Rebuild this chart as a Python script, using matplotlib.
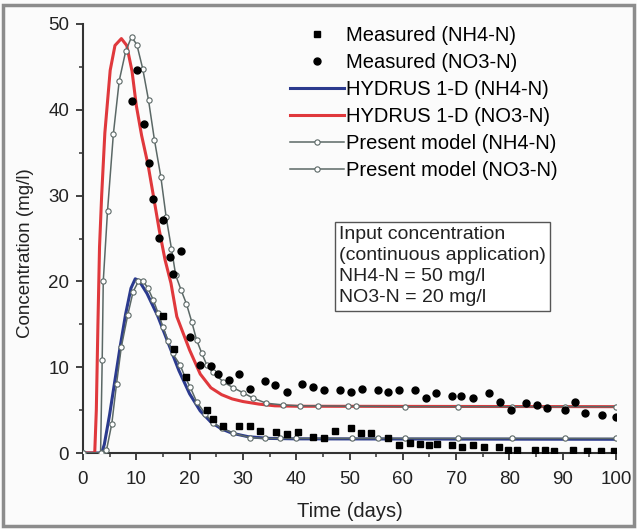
import matplotlib
matplotlib.use("Agg")
import matplotlib.pyplot as plt
from matplotlib.patches import Rectangle

plt.rcParams["font.family"] = ["Liberation Sans", "DejaVu Sans"]

# measured data
meas_nh4_days = [15.1, 17.1, 19.4, 23.2, 24.3, 26.3, 29.2, 31.3, 33.2, 36.3, 38.2, 40.4, 43.2, 45.3,
                 47.3, 50.2, 52.2, 54.0, 57.3, 59.3, 61.3, 63.2, 64.9, 66.5, 69.2, 71.2, 73.2, 75.2,
                 78.0, 79.8, 81.4, 84.8, 86.6, 88.3, 92.0, 94.5, 97.2, 99.7]
meas_nh4 = [16.0, 12.1, 8.9, 5.0, 4.0, 3.1, 3.1, 3.2, 2.6, 2.5, 2.2, 2.4, 1.9, 1.8,
            2.6, 2.9, 2.3, 2.3, 1.8, 0.9, 1.2, 1.1, 0.9, 1.0, 0.9, 0.7, 0.9, 0.7,
            0.7, 0.3, 0.3, 0.3, 0.3, 0.2, 0.3, 0.2, 0.2, 0.2]

meas_no3_days = [9.1, 10.1, 11.5, 12.4, 13.2, 14.3, 15.0, 16.3, 16.9, 18.3, 20.1, 21.9, 24.1, 25.3,
                 27.3, 29.2, 31.3, 34.2, 36.1, 38.2, 41.1, 43.2, 45.2, 48.2, 50.2, 52.3, 55.3, 57.3,
                 59.3, 62.3, 64.4, 66.2, 69.2, 71.0, 73.2, 76.2, 78.2, 80.3, 83.2, 85.1, 87.0, 90.4,
                 92.3, 94.2, 97.3, 100.0]
meas_no3 = [41.0, 44.6, 38.4, 33.8, 29.6, 25.1, 27.2, 22.9, 20.9, 23.6, 13.5, 10.3, 10.1, 9.2,
            8.5, 9.2, 7.5, 8.4, 7.9, 7.1, 8.0, 7.7, 7.4, 7.4, 7.1, 7.5, 7.3, 7.1,
            7.4, 7.3, 6.4, 7.0, 6.6, 6.6, 6.4, 7.0, 6.0, 5.0, 5.8, 5.6, 5.2, 5.0,
            5.9, 4.7, 4.4, 4.2]

# HYDRUS 1-D curves
hyd_nh4_days = [0, 3.5, 4.0, 5.0, 6.0, 7.0, 8.0, 9.0, 9.8, 10.5, 12.0, 14.0, 16.0, 18.0,
                20.0, 22.0, 24.0, 26.0, 28.0, 31.0, 35.0, 40.0, 100.0]
hyd_nh4 = [0, 0, 1.0, 4.5, 8.5, 12.5, 16.2, 19.2, 20.3, 20.1, 18.6, 16.0, 12.8, 9.6,
           6.9, 4.9, 3.6, 2.8, 2.3, 1.9, 1.7, 1.65, 1.6]

hyd_no3_days = [0, 2.2, 2.5, 2.8, 3.1, 3.5, 4.1, 5.1, 6.0, 7.2, 8.2, 9.2, 10.0, 11.0, 12.2,
                13.2, 14.3, 15.4, 16.5, 17.6, 20.0, 22.0, 24.0, 26.0, 28.0, 30.0, 33.0, 36.0,
                40.0, 100.0]
hyd_no3 = [0, 0, 5, 15, 24, 30, 37.3, 44.6, 47.5, 48.3, 47.5, 44.5, 40.5, 37.0, 33.6,
           30.0, 26.0, 22.5, 19.8, 15.9, 12.0, 9.2, 7.6, 6.8, 6.3, 6.0, 5.7, 5.5,
           5.45, 5.4]

# present model
pm_nh4_days = [0, 3.5, 4.4, 5.4, 6.3, 7.2, 8.4, 9.4, 10.4, 11.3, 12.2, 13.2, 14.1, 15.0,
               15.9, 16.8, 18.2, 19.1, 20.1, 21.3, 22.9, 24.4, 26.0, 28.2, 31.3, 34.1, 37.0,
               40.0, 45.4, 50.4, 55.4, 60.4, 70.3, 80.4, 90.4, 100.0]
pm_nh4 = [0, 0, 0.3, 3.4, 8.1, 12.4, 16.1, 18.8, 20.0, 20.0, 19.2, 17.8, 16.3, 14.7,
          13.1, 11.6, 10.3, 8.9, 7.7, 6.0, 4.6, 3.5, 2.9, 2.3, 1.8, 1.7, 1.7,
          1.7, 1.7, 1.7, 1.7, 1.7, 1.7, 1.7, 1.7, 1.7]

pm_no3_days = [0, 3.3, 3.6, 3.8, 4.6, 5.7, 6.8, 8.0, 9.1, 10.1, 11.2, 12.3, 13.4, 14.6,
               15.6, 16.6, 17.4, 18.4, 19.4, 20.4, 21.3, 22.3, 23.2, 24.4, 26.3, 28.2, 30.1,
               31.9, 34.4, 37.6, 40.7, 44.0, 49.7, 51.3, 60.4, 70.3, 80.4, 90.4, 100.0]
pm_no3 = [0, 0, 10.8, 20.0, 28.2, 37.2, 43.4, 46.8, 48.5, 47.6, 44.8, 41.1, 36.5, 32.2,
          27.5, 23.8, 20.7, 19.0, 17.4, 15.3, 13.2, 11.6, 10.3, 9.4, 8.3, 7.6, 7.0,
          6.4, 5.8, 5.6, 5.5, 5.5, 5.45, 5.45, 5.4, 5.4, 5.4, 5.4, 5.4]

box_text = "Input concentration\n(continuous application)\nNH4-N = 50 mg/l\nNO3-N = 20 mg/l"

W, H = 637, 529
fig = plt.figure(figsize=(W / 100, H / 100), dpi=100, facecolor="#fbfbfb")
ax = fig.add_axes([83 / W, 1 - 453 / H, (616 - 83) / W, (453 - 24) / H])
ax.set_facecolor("#fbfbfb")

gray = "#5b6866"
ax.plot(hyd_nh4_days, hyd_nh4, color="#2b3a8e", lw=2.2, label="HYDRUS 1-D (NH4-N)", zorder=2)
ax.plot(hyd_no3_days, hyd_no3, color="#e0383c", lw=2.2, label="HYDRUS 1-D (NO3-N)", zorder=2)
ax.plot(pm_nh4_days, pm_nh4, color=gray, lw=1.1, marker="o", ms=3.8, mfc="white",
        mec=gray, mew=0.8, label="Present model (NH4-N)", zorder=3)
ax.plot(pm_no3_days, pm_no3, color=gray, lw=1.1, marker="o", ms=3.8, mfc="white",
        mec=gray, mew=0.8, label="Present model (NO3-N)", zorder=3)
ax.plot(meas_nh4_days, meas_nh4, ls="none", marker="s", ms=4.3, color="black",
        label="Measured (NH4-N)", zorder=4)
ax.plot(meas_no3_days, meas_no3, ls="none", marker="o", ms=5.0, color="black",
        label="Measured (NO3-N)", zorder=4)

ax.set_xlim(0, 100)
ax.set_ylim(0, 50)
ax.set_xticks(range(0, 101, 10))
ax.set_xticks(range(5, 100, 10), minor=True)
ax.set_yticks(range(0, 51, 10))
ax.set_yticks(range(5, 50, 10), minor=True)
for s in ["top", "right"]:
    ax.spines[s].set_visible(False)
for s in ["left", "bottom"]:
    ax.spines[s].set_color("#333333")
    ax.spines[s].set_linewidth(1.5)
ax.tick_params(which="major", length=5, width=1.3, color="#333333", labelsize=13.5,
               labelcolor="#222222", direction="out", pad=5)
ax.tick_params(axis="x", which="major", pad=8)
ax.tick_params(which="minor", length=3, width=1.1, color="#333333", direction="out")
ax.set_xlabel("Time (days)", fontsize=14.5, color="#222222")
ax.set_ylabel("Concentration (mg/l)", fontsize=13.5, color="#222222")
ax.xaxis.set_label_coords(0.5, -0.115)
ax.yaxis.set_label_coords(-0.092, 0.466)

handles, labels = ax.get_legend_handles_labels()
order = [4, 5, 0, 1, 2, 3]
fig.legend([handles[i] for i in order], [labels[i] for i in order],
           loc="upper left", bbox_to_anchor=(290 / W, 1 - 26 / H), frameon=False,
           fontsize=14.5, handlelength=2.7, handletextpad=0.1, labelspacing=0.4,
           borderpad=0, borderaxespad=0, numpoints=1)

fig.text(339 / W, 1 - 226 / H, box_text, fontsize=14, va="top", ha="left",
         linespacing=1.32, color="#222222",
         bbox=dict(boxstyle="square,pad=0.22", fc="white", ec="#555555", lw=1.0))

fig.patches.append(Rectangle((0.004, 0.006), 0.992, 0.985, transform=fig.transFigure,
                             fill=False, ec="#8c8c8c", lw=2.5))

fig.savefig("out.png", dpi=100, facecolor=fig.get_facecolor())
